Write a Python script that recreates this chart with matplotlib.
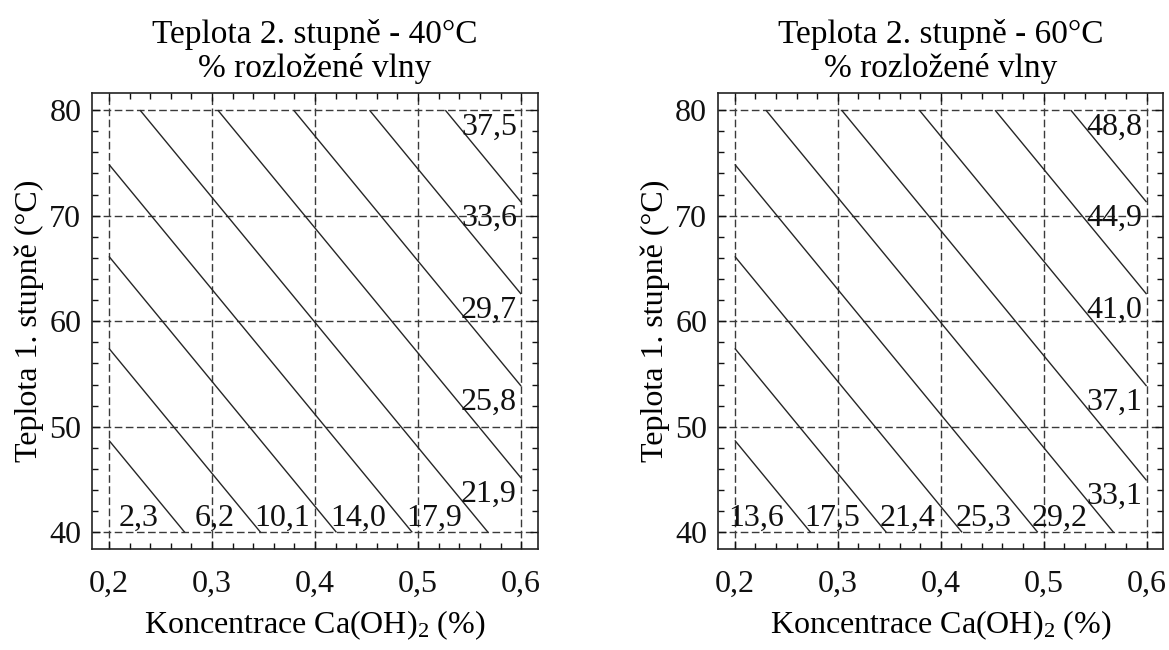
import numpy as np
import matplotlib
matplotlib.use('Agg')
import matplotlib.pyplot as plt
from matplotlib.ticker import MultipleLocator, FixedLocator, FixedFormatter

plt.rcParams['font.family'] = ['Liberation Serif', 'DejaVu Serif']
plt.rcParams['mathtext.fontset'] = 'custom'
plt.rcParams['mathtext.rm'] = 'Liberation Serif'
plt.rcParams['mathtext.default'] = 'regular'

# corners of the response surface (Ca(OH)2 conc., temperature of 1st stage)
conc = [0.2, 0.6]
temp1 = [40, 80]

# surface values at the corners, rows = temp1, cols = conc
z_40 = [[-1.6, 19.6],
        [16.3, 37.5]]
z_60 = [[9.7, 30.9],
        [27.6, 48.8]]

levels_40 = [2.3, 6.2, 10.1, 14.0, 17.9, 21.9, 25.8, 29.7, 33.6, 37.5]
levels_60 = [13.6, 17.5, 21.4, 25.3, 29.2, 33.1, 37.1, 41.0, 44.9, 48.8]

titles = ['Teplota 2. stupně - 40°C\n% rozložené vlny',
          'Teplota 2. stupně - 60°C\n% rozložené vlny']

xticks = [0.2, 0.3, 0.4, 0.5, 0.6]
xticklabels = ['0,2', '0,3', '0,4', '0,5', '0,6']
yticks = [40, 50, 60, 70, 80]
yticklabels = ['40', '50', '60', '70', '80']

FS = 23
LINE = '#262626'
GRID = '#3a3a3a'


def fmt(v):
    return f'{v:.1f}'.replace('.', ',')


def draw(ax, z, levels, title):
    X, Y = np.meshgrid(conc, temp1)
    Z = np.array(z)
    cs = ax.contour(X, Y, Z, levels=levels, colors=LINE, linewidths=1.0)

    for lev, segs in zip(levels, cs.allsegs):
        pts = [p for s in segs for p in s]
        if pts:
            end = max(pts, key=lambda p: p[0])
            if abs(end[1] - temp1[0]) < 0.5:
                ax.annotate(fmt(lev), (end[0], temp1[0]), xytext=(-19, 5),
                            textcoords='offset points', ha='right', va='baseline',
                            fontsize=FS, color='#111111')
            else:
                ax.annotate(fmt(lev), (conc[1], end[1]), xytext=(-3, -1),
                            textcoords='offset points', ha='right', va='top',
                            fontsize=FS, color='#111111')
        else:
            # level sits on the maximum corner
            ax.annotate(fmt(lev), (conc[1], temp1[1]), xytext=(-3, -2),
                        textcoords='offset points', ha='right', va='top',
                        fontsize=FS, color='#111111')

    ax.set_xlim(0.184, 0.616)
    ax.set_ylim(38.4, 81.6)
    ax.xaxis.set_major_locator(FixedLocator(xticks))
    ax.xaxis.set_major_formatter(FixedFormatter(xticklabels))
    ax.yaxis.set_major_locator(FixedLocator(yticks))
    ax.yaxis.set_major_formatter(FixedFormatter(yticklabels))
    ax.xaxis.set_minor_locator(MultipleLocator(0.02))
    ax.yaxis.set_minor_locator(MultipleLocator(2))
    ax.tick_params(which='both', direction='in', top=True, right=True,
                   labelsize=FS, colors='#111111', width=1)
    ax.tick_params(axis='x', which='major', pad=15)
    ax.tick_params(axis='y', which='major', pad=8)
    ax.tick_params(which='major', length=6)
    ax.tick_params(which='minor', length=4)
    ax.grid(True, which='major', linestyle=(0, (5.5, 2.5)), color=GRID, linewidth=1)
    for sp in ax.spines.values():
        sp.set_linewidth(1.2)
        sp.set_color('#222222')
    ax.set_title(title, fontsize=24, pad=12, linespacing=1.1)
    ax.set_xlabel('Koncentrace Ca(OH)$_2$ (%)', fontsize=FS, labelpad=7)
    ax.set_ylabel('Teplota 1. stupně (°C)', fontsize=FS, labelpad=4)


fig = plt.figure(figsize=(11.69, 6.5), dpi=100)
ax1 = fig.add_axes([0.0791, 0.155, 0.3808, 0.7015])
ax2 = fig.add_axes([0.6145, 0.155, 0.3804, 0.7015])

draw(ax1, z_40, levels_40, titles[0])
draw(ax2, z_60, levels_60, titles[1])

fig.savefig('out.png', dpi=100)
